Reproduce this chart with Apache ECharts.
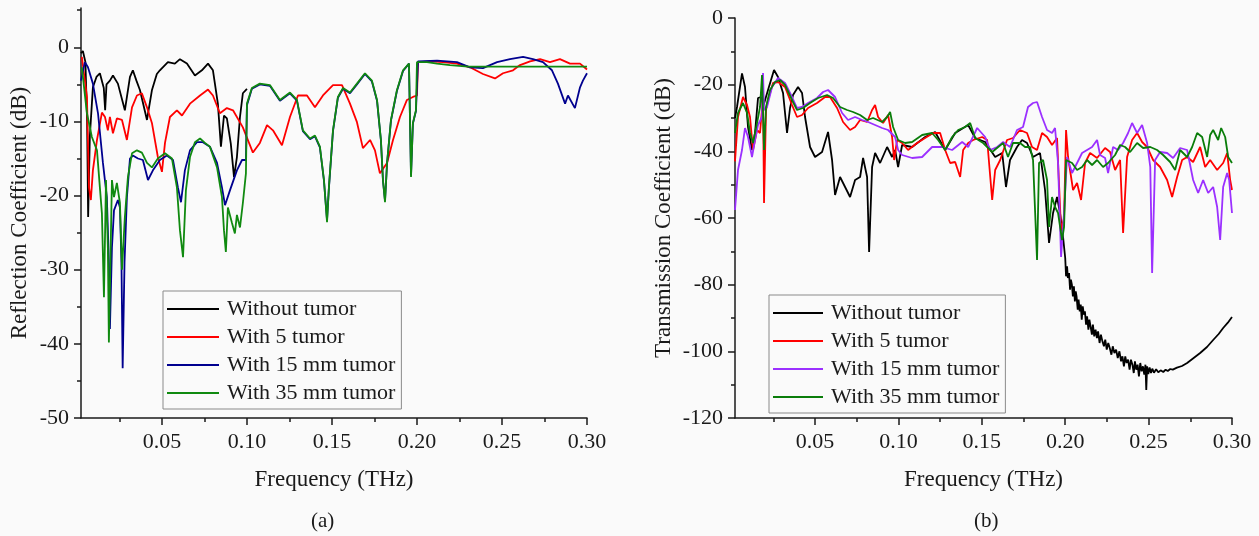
<!DOCTYPE html>
<html>
<head>
<meta charset="utf-8">
<script src="https://cdn.jsdelivr.net/npm/echarts@6/dist/echarts.min.js"></script>
<style>
  html, body { margin: 0; padding: 0; background: #fafafa; }
  #chart { width: 1259px; height: 536px; }
</style>
</head>
<body>
<div id="chart"></div>
<script>
// axis ticks
const freqTicks = [0.05, 0.10, 0.15, 0.20, 0.25, 0.30]
const freqMinor = [0.025, 0.075, 0.125, 0.175, 0.225, 0.275]
const reflTicks = [-50, -40, -30, -20, -10, 0]
const reflMinor = [-45, -35, -25, -15, -5, 5]
const seriesNames = ['Without tumor', 'With 5 tumor', 'With 15 mm tumor', 'With 35 mm tumor']

// (a) reflection coefficient, [THz, dB]
const reflWithout = [[0.0024,-0.8],[0.0035,-0.5],[0.0050,-2.0],[0.0060,-10.0],[0.0066,-22.9],[0.0076,-12.0],[0.0094,-5.4],[0.0115,-4.0],[0.0135,-3.5],[0.0158,-5.5],[0.0166,-8.5],[0.0174,-5.0],[0.0194,-4.5],[0.0212,-3.8],[0.0241,-4.9],[0.0282,-8.5],[0.0312,-4.0],[0.0329,-3.1],[0.0350,-4.5],[0.0371,-5.8],[0.0412,-9.8],[0.0441,-5.8],[0.0470,-3.6],[0.0488,-3.1],[0.0535,-2.0],[0.0576,-2.2],[0.0606,-1.6],[0.0647,-2.2],[0.0694,-3.8],[0.0735,-3.1],[0.0771,-2.2],[0.0800,-3.1],[0.0829,-7.6],[0.0847,-13.4],[0.0865,-9.2],[0.0882,-9.6],[0.0905,-13.0],[0.0924,-17.5],[0.0941,-14.8],[0.0959,-9.4],[0.0976,-6.2],[0.1000,-5.6]]
const reflWith5 = [[0.0029,-1.3],[0.0059,-6.7],[0.0071,-18.9],[0.0082,-20.6],[0.0094,-16.6],[0.0118,-12.5],[0.0147,-8.8],[0.0165,-9.4],[0.0182,-11.2],[0.0194,-9.4],[0.0212,-11.6],[0.0235,-9.6],[0.0265,-9.8],[0.0294,-12.5],[0.0324,-8.1],[0.0353,-6.5],[0.0382,-6.2],[0.0412,-8.1],[0.0441,-10.2],[0.0476,-14.8],[0.0500,-16.8],[0.0518,-12.9],[0.0547,-9.4],[0.0588,-8.5],[0.0618,-9.2],[0.0665,-7.6],[0.0724,-6.5],[0.0771,-5.7],[0.0800,-6.5],[0.0841,-8.9],[0.0882,-8.2],[0.0918,-8.5],[0.0976,-10.8],[0.1035,-14.2],[0.1076,-12.9],[0.1118,-10.5],[0.1153,-11.2],[0.1206,-13.2],[0.1253,-9.4],[0.1300,-6.5],[0.1353,-6.5],[0.1400,-8.1],[0.1447,-6.5],[0.1506,-5.1],[0.1559,-5.1],[0.1606,-7.6],[0.1647,-10.1],[0.1682,-13.6],[0.1724,-12.5],[0.1753,-13.9],[0.1782,-17.0],[0.1824,-15.6],[0.1859,-12.5],[0.1900,-9.4],[0.1941,-7.1],[0.1976,-6.7],[0.2000,-6.5],[0.2006,-2.0],[0.2076,-1.9],[0.2153,-2.0],[0.2235,-2.2],[0.2312,-2.7],[0.2388,-3.6],[0.2459,-4.2],[0.2506,-3.5],[0.2565,-3.1],[0.2606,-2.4],[0.2665,-1.9],[0.2724,-1.6],[0.2782,-2.0],[0.2841,-1.6],[0.2900,-2.2],[0.2959,-2.2],[0.3000,-3.0]]
const reflWith15 = [[0.0024,-4.5],[0.0047,-2.0],[0.0065,-2.7],[0.0094,-4.9],[0.0124,-8.9],[0.0153,-15.6],[0.0176,-20.2],[0.0188,-29.1],[0.0194,-38.0],[0.0206,-27.0],[0.0218,-22.0],[0.0241,-20.6],[0.0253,-21.6],[0.0262,-29.1],[0.0269,-43.3],[0.0280,-29.0],[0.0294,-20.2],[0.0312,-15.0],[0.0329,-14.6],[0.0359,-15.0],[0.0388,-15.2],[0.0418,-17.9],[0.0447,-16.6],[0.0488,-15.2],[0.0529,-14.6],[0.0565,-15.2],[0.0594,-18.9],[0.0612,-20.9],[0.0635,-16.6],[0.0665,-13.9],[0.0706,-12.8],[0.0741,-12.8],[0.0782,-13.4],[0.0824,-15.6],[0.0853,-18.9],[0.0871,-21.3],[0.0900,-19.3],[0.0941,-16.6],[0.0971,-15.2],[0.0994,-15.2],[0.1000,-7.8],[0.1029,-5.6],[0.1076,-5.0],[0.1135,-5.2],[0.1194,-7.2],[0.1253,-6.2],[0.1294,-7.2],[0.1329,-11.3],[0.1371,-12.4],[0.1400,-12.0],[0.1429,-13.5],[0.1453,-18.0],[0.1471,-23.3],[0.1482,-19.0],[0.1506,-11.3],[0.1535,-6.8],[0.1565,-5.6],[0.1606,-6.2],[0.1647,-5.0],[0.1694,-3.6],[0.1735,-4.6],[0.1765,-7.2],[0.1788,-12.6],[0.1800,-18.0],[0.1812,-20.7],[0.1824,-15.7],[0.1847,-9.9],[0.1882,-5.9],[0.1918,-3.2],[0.1953,-2.2],[0.1965,-17.3],[0.1976,-10.3],[0.1994,-8.6],[0.2006,-1.9],[0.2118,-1.8],[0.2235,-2.0],[0.2312,-2.7],[0.2388,-2.8],[0.2471,-2.0],[0.2547,-1.6],[0.2624,-1.3],[0.2682,-1.6],[0.2741,-2.0],[0.2794,-3.1],[0.2829,-4.9],[0.2871,-7.6],[0.2888,-6.5],[0.2929,-8.2],[0.2959,-5.4],[0.2976,-4.5],[0.3000,-3.5]]
const reflWith35 = [[0.0029,-2.7],[0.0059,-8.9],[0.0088,-12.1],[0.0118,-13.9],[0.0147,-22.4],[0.0159,-33.7],[0.0171,-17.9],[0.0182,-27.0],[0.0188,-39.8],[0.0206,-17.9],[0.0218,-20.2],[0.0235,-18.3],[0.0253,-21.0],[0.0265,-30.0],[0.0282,-22.9],[0.0300,-17.5],[0.0324,-14.3],[0.0353,-13.9],[0.0382,-14.2],[0.0412,-15.6],[0.0441,-16.2],[0.0476,-15.0],[0.0518,-14.3],[0.0559,-15.0],[0.0588,-18.9],[0.0606,-24.7],[0.0624,-28.3],[0.0641,-19.3],[0.0665,-14.8],[0.0694,-12.8],[0.0724,-12.3],[0.0753,-12.9],[0.0782,-13.4],[0.0824,-16.2],[0.0853,-20.2],[0.0865,-24.7],[0.0876,-27.6],[0.0888,-21.6],[0.0912,-23.7],[0.0929,-25.1],[0.0941,-22.6],[0.0959,-24.3],[0.0976,-21.0],[0.0994,-17.0],[0.1000,-7.6],[0.1029,-5.5],[0.1076,-4.9],[0.1135,-5.1],[0.1194,-7.1],[0.1253,-6.1],[0.1294,-7.1],[0.1329,-11.2],[0.1371,-12.3],[0.1400,-11.9],[0.1429,-13.4],[0.1453,-17.9],[0.1471,-23.6],[0.1482,-18.9],[0.1506,-11.2],[0.1535,-6.7],[0.1565,-5.5],[0.1606,-6.1],[0.1647,-4.9],[0.1694,-3.5],[0.1735,-4.5],[0.1765,-7.1],[0.1788,-12.5],[0.1800,-17.9],[0.1812,-20.9],[0.1824,-15.6],[0.1847,-9.8],[0.1882,-5.8],[0.1918,-3.1],[0.1953,-2.2],[0.1965,-17.5],[0.1976,-10.2],[0.1994,-8.5],[0.2000,-2.0],[0.2059,-2.0],[0.2118,-2.2],[0.2194,-2.4],[0.2300,-2.6],[0.3000,-2.6]]

// (b) transmission coefficient, [THz, dB]
const transWithout = [[0.0020,-30.0],[0.0032,-26.7],[0.0062,-16.6],[0.0080,-20.7],[0.0098,-32.7],[0.0122,-39.6],[0.0140,-34.5],[0.0158,-24.0],[0.0176,-23.7],[0.0188,-26.7],[0.0218,-21.6],[0.0254,-15.6],[0.0278,-17.7],[0.0308,-22.5],[0.0332,-34.5],[0.0350,-27.0],[0.0368,-23.1],[0.0398,-20.7],[0.0422,-22.5],[0.0440,-29.7],[0.0470,-38.7],[0.0500,-41.7],[0.0542,-40.2],[0.0578,-34.2],[0.0602,-42.6],[0.0620,-53.1],[0.0650,-47.7],[0.0680,-50.7],[0.0710,-53.7],[0.0740,-48.6],[0.0770,-47.7],[0.0788,-42.0],[0.0812,-47.7],[0.0824,-70.2],[0.0842,-44.7],[0.0860,-40.5],[0.0890,-43.5],[0.0932,-38.7],[0.0962,-41.7],[0.0980,-39.6],[0.0998,-44.7],[0.1022,-38.1],[0.1082,-38.7],[0.1160,-35.7],[0.1220,-34.2],[0.1280,-39.6],[0.1340,-34.5],[0.1418,-32.1],[0.1460,-36.0],[0.1520,-37.2],[0.1580,-41.7],[0.1622,-40.5],[0.1645,-50.7],[0.1669,-42.6],[0.1711,-38.7],[0.1741,-36.6],[0.1771,-37.5],[0.1807,-41.7],[0.1849,-40.5],[0.1879,-51.6],[0.1903,-67.5],[0.1927,-58.5],[0.1951,-53.7],[0.1969,-58.5],[0.1987,-65.7],[0.2000,-72.0],[0.2005,-77.5],[0.2011,-74.5],[0.2016,-78.0],[0.2023,-76.5],[0.2029,-81.5],[0.2034,-78.5],[0.2040,-80.0],[0.2046,-83.5],[0.2052,-80.5],[0.2058,-85.0],[0.2063,-82.0],[0.2068,-83.5],[0.2075,-87.5],[0.2080,-84.5],[0.2087,-88.0],[0.2093,-86.0],[0.2099,-90.5],[0.2105,-86.5],[0.2112,-89.0],[0.2118,-88.0],[0.2125,-92.0],[0.2131,-89.5],[0.2139,-93.5],[0.2145,-90.5],[0.2152,-92.5],[0.2160,-95.0],[0.2166,-92.0],[0.2174,-95.5],[0.2182,-93.5],[0.2190,-96.0],[0.2197,-94.0],[0.2206,-97.5],[0.2214,-95.0],[0.2223,-97.0],[0.2232,-98.5],[0.2240,-96.5],[0.2249,-99.5],[0.2258,-97.5],[0.2267,-99.0],[0.2277,-101.0],[0.2285,-98.5],[0.2295,-100.5],[0.2305,-99.5],[0.2315,-102.0],[0.2325,-100.0],[0.2335,-103.0],[0.2343,-101.5],[0.2352,-104.5],[0.2360,-101.5],[0.2368,-103.5],[0.2377,-102.5],[0.2386,-105.5],[0.2394,-102.5],[0.2403,-104.0],[0.2411,-106.5],[0.2418,-103.0],[0.2426,-105.5],[0.2434,-104.0],[0.2442,-107.5],[0.2450,-103.5],[0.2458,-106.0],[0.2466,-104.5],[0.2474,-107.0],[0.2481,-104.0],[0.2486,-111.6],[0.2491,-104.5],[0.2498,-106.8],[0.2506,-104.8],[0.2514,-106.5],[0.2522,-105.2],[0.2532,-106.4],[0.2545,-105.4],[0.2558,-106.3],[0.2572,-105.7],[0.2588,-106.2],[0.2602,-105.5],[0.2615,-105.9],[0.2630,-105.3],[0.2645,-105.5],[0.2670,-104.9],[0.2700,-104.4],[0.2731,-103.5],[0.2770,-102.0],[0.2809,-100.5],[0.2850,-98.7],[0.2887,-96.6],[0.2920,-94.8],[0.2947,-93.0],[0.2975,-91.4],[0.3000,-89.7]]
const transWith5 = [[0.0020,-43.0],[0.0038,-29.7],[0.0068,-23.7],[0.0092,-26.1],[0.0110,-29.7],[0.0128,-39.6],[0.0152,-33.6],[0.0170,-34.5],[0.0188,-23.7],[0.0194,-55.5],[0.0206,-27.6],[0.0218,-24.6],[0.0248,-19.5],[0.0278,-19.2],[0.0320,-20.7],[0.0362,-26.1],[0.0392,-29.7],[0.0422,-29.1],[0.0458,-27.0],[0.0512,-25.5],[0.0560,-23.7],[0.0590,-23.7],[0.0632,-27.0],[0.0668,-31.2],[0.0710,-33.6],[0.0740,-32.7],[0.0770,-30.6],[0.0812,-31.2],[0.0842,-27.6],[0.0860,-26.1],[0.0878,-29.7],[0.0908,-31.5],[0.0938,-29.1],[0.0962,-35.7],[0.0974,-42.6],[0.0992,-36.6],[0.1022,-37.5],[0.1058,-39.6],[0.1112,-37.5],[0.1160,-36.0],[0.1208,-34.5],[0.1250,-34.5],[0.1280,-39.6],[0.1310,-43.5],[0.1340,-43.2],[0.1370,-47.7],[0.1388,-39.6],[0.1418,-37.5],[0.1448,-36.6],[0.1502,-35.7],[0.1532,-36.6],[0.1562,-54.6],[0.1580,-45.6],[0.1610,-42.6],[0.1651,-36.6],[0.1687,-36.0],[0.1729,-33.6],[0.1771,-34.5],[0.1801,-38.7],[0.1831,-39.6],[0.1861,-34.5],[0.1891,-35.7],[0.1921,-38.1],[0.1951,-36.0],[0.1963,-50.0],[0.1975,-63.6],[0.1993,-60.0],[0.2005,-33.6],[0.2011,-34.2],[0.2017,-41.7],[0.2047,-51.6],[0.2071,-49.5],[0.2095,-54.6],[0.2119,-43.5],[0.2149,-40.5],[0.2191,-42.0],[0.2239,-39.0],[0.2269,-40.2],[0.2299,-45.6],[0.2329,-42.6],[0.2347,-64.5],[0.2371,-41.7],[0.2401,-36.6],[0.2431,-34.5],[0.2461,-37.2],[0.2491,-38.7],[0.2527,-42.6],[0.2569,-44.7],[0.2611,-48.6],[0.2641,-53.7],[0.2671,-47.7],[0.2701,-42.6],[0.2731,-41.7],[0.2767,-43.2],[0.2809,-38.7],[0.2839,-44.7],[0.2869,-42.6],[0.2911,-45.6],[0.2947,-43.5],[0.2971,-40.5],[0.2989,-48.6],[0.3000,-51.6]]
const transWith15 = [[0.0020,-57.6],[0.0038,-45.6],[0.0062,-39.6],[0.0080,-33.0],[0.0098,-35.7],[0.0122,-41.7],[0.0140,-36.6],[0.0158,-32.1],[0.0182,-29.7],[0.0188,-16.5],[0.0194,-27.6],[0.0212,-26.7],[0.0242,-20.7],[0.0278,-18.0],[0.0320,-19.5],[0.0362,-23.7],[0.0392,-27.0],[0.0422,-26.7],[0.0458,-25.5],[0.0512,-24.0],[0.0548,-22.2],[0.0578,-21.6],[0.0620,-23.7],[0.0662,-28.5],[0.0698,-30.6],[0.0740,-29.7],[0.0782,-30.6],[0.0818,-31.2],[0.0860,-32.1],[0.0902,-33.0],[0.0938,-33.6],[0.0980,-35.7],[0.0998,-39.6],[0.1022,-41.1],[0.1082,-42.0],[0.1142,-41.7],[0.1202,-38.7],[0.1262,-38.7],[0.1322,-39.6],[0.1382,-37.2],[0.1418,-38.7],[0.1472,-33.0],[0.1520,-35.7],[0.1550,-39.6],[0.1592,-38.7],[0.1628,-37.2],[0.1669,-38.7],[0.1711,-33.6],[0.1747,-32.7],[0.1777,-26.7],[0.1807,-25.5],[0.1831,-25.2],[0.1861,-29.7],[0.1891,-33.6],[0.1921,-34.5],[0.1939,-33.0],[0.1957,-43.5],[0.1975,-71.7],[0.1993,-58.5],[0.2011,-41.7],[0.2041,-46.5],[0.2071,-43.5],[0.2101,-40.5],[0.2131,-39.6],[0.2161,-38.7],[0.2191,-36.6],[0.2209,-41.1],[0.2239,-42.0],[0.2257,-46.5],[0.2287,-38.7],[0.2317,-39.6],[0.2347,-37.5],[0.2377,-34.5],[0.2401,-31.5],[0.2431,-34.5],[0.2461,-32.1],[0.2491,-37.5],[0.2510,-44.7],[0.2521,-76.5],[0.2539,-42.6],[0.2569,-40.2],[0.2611,-40.5],[0.2647,-42.0],[0.2689,-39.0],[0.2731,-39.6],[0.2767,-48.6],[0.2797,-52.5],[0.2827,-48.6],[0.2857,-52.5],[0.2887,-50.7],[0.2911,-56.7],[0.2929,-66.6],[0.2947,-50.7],[0.2971,-46.5],[0.2983,-48.6],[0.3000,-58.5]]
const transWith35 = [[0.0020,-34.5],[0.0038,-28.5],[0.0068,-25.5],[0.0092,-28.5],[0.0110,-34.5],[0.0128,-37.5],[0.0152,-31.5],[0.0170,-26.7],[0.0182,-17.1],[0.0194,-39.6],[0.0206,-26.7],[0.0230,-21.6],[0.0260,-19.2],[0.0290,-18.6],[0.0320,-20.1],[0.0362,-24.6],[0.0392,-27.6],[0.0428,-27.0],[0.0470,-25.5],[0.0518,-24.0],[0.0572,-23.1],[0.0608,-24.0],[0.0650,-26.7],[0.0692,-27.6],[0.0728,-28.2],[0.0770,-29.1],[0.0812,-30.6],[0.0848,-30.0],[0.0902,-31.2],[0.0932,-29.7],[0.0950,-28.2],[0.0968,-32.7],[0.0998,-36.6],[0.1040,-37.5],[0.1082,-37.2],[0.1142,-35.1],[0.1202,-34.5],[0.1238,-36.6],[0.1280,-39.6],[0.1322,-35.7],[0.1358,-33.6],[0.1400,-32.7],[0.1430,-31.5],[0.1460,-36.0],[0.1508,-37.5],[0.1562,-40.2],[0.1598,-38.7],[0.1628,-37.5],[0.1657,-41.7],[0.1687,-37.5],[0.1729,-37.5],[0.1759,-38.7],[0.1789,-38.7],[0.1807,-42.6],[0.1831,-72.6],[0.1843,-43.5],[0.1867,-42.6],[0.1891,-48.6],[0.1903,-62.7],[0.1921,-53.7],[0.1939,-56.7],[0.1957,-58.5],[0.1981,-66.6],[0.1993,-62.7],[0.2005,-42.6],[0.2041,-43.5],[0.2071,-45.6],[0.2101,-44.7],[0.2131,-42.6],[0.2161,-44.1],[0.2191,-42.6],[0.2227,-44.7],[0.2257,-43.5],[0.2299,-41.1],[0.2329,-38.1],[0.2359,-38.7],[0.2389,-40.2],[0.2431,-37.5],[0.2467,-39.0],[0.2510,-38.7],[0.2551,-39.6],[0.2587,-41.1],[0.2629,-43.2],[0.2659,-45.6],[0.2689,-39.6],[0.2731,-41.7],[0.2761,-38.7],[0.2791,-34.5],[0.2821,-35.7],[0.2851,-41.7],[0.2869,-35.1],[0.2887,-33.6],[0.2917,-36.6],[0.2935,-33.0],[0.2959,-35.7],[0.2977,-41.7],[0.3000,-43.5]]

const reflColors = ['#000000', '#ff0000', '#00008f', '#108a10']
const transColors = ['#000000', '#ff0000', '#9b30ff', '#0a7d0a']

const SERIF = '"Liberation Serif", "DejaVu Serif", serif'
const INK = '#1a1a1a'

function lineSeries(name, data, color, axisIndex) {
  return {
    name: name, type: 'line', data: data,
    xAxisIndex: axisIndex, yAxisIndex: axisIndex,
    symbol: 'none', animation: false, clip: true,
    lineStyle: { width: 1.8, color: color },
    itemStyle: { color: color }
  }
}

function freqAxes(gridIndex, min, nameGap) {
  const main = {
    type: 'value', gridIndex: gridIndex, position: 'bottom', min: min, max: 0.3,
    name: 'Frequency (THz)', nameLocation: 'middle', nameGap: nameGap,
    nameTextStyle: { fontFamily: SERIF, fontSize: 23, color: INK },
    axisLine: { onZero: false, lineStyle: { color: INK, width: 1.5 } },
    axisTick: { customValues: freqTicks, length: 7, lineStyle: { color: INK, width: 1.5 } },
    axisLabel: { customValues: freqTicks, formatter: v => v.toFixed(2), margin: 13,
      fontFamily: SERIF, fontSize: 22, color: INK },
    splitLine: { show: false }
  }
  // second axis only for the short minor ticks
  const minor = {
    type: 'value', gridIndex: gridIndex, position: 'bottom', min: min, max: 0.3,
    axisLine: { show: false, onZero: false },
    axisTick: { customValues: freqMinor, length: 4, lineStyle: { color: INK, width: 1.5 } },
    axisLabel: { show: false }, splitLine: { show: false }
  }
  return [main, minor]
}

const yLabel = { fontFamily: SERIF, fontSize: 22, color: INK, margin: 12 }

const option = {
  backgroundColor: '#fafafa',
  grid: [
    { left: 81, top: 8, width: 506, height: 410, outerBoundsMode: 'none' },
    { left: 735, top: 18, width: 497, height: 400, outerBoundsMode: 'none' }
  ],
  xAxis: [...freqAxes(0, 0.0024, 50), ...freqAxes(1, 0.002, 50)],
  yAxis: [
    {
      type: 'value', gridIndex: 0, position: 'left', min: -50, max: 5.3,
      name: 'Reflection Coefficient (dB)', nameLocation: 'middle', nameGap: 50,
      nameTextStyle: { fontFamily: SERIF, fontSize: 23, color: INK },
      axisLine: { show: true, onZero: false, lineStyle: { color: INK, width: 1.5 } },
      axisTick: { show: true, customValues: reflTicks, length: 7, lineStyle: { color: INK, width: 1.5 } },
      axisLabel: Object.assign({ customValues: reflTicks }, yLabel),
      splitLine: { show: false }
    },
    {
      type: 'value', gridIndex: 0, position: 'left', min: -50, max: 5.3,
      axisLine: { show: false, onZero: false },
      axisTick: { show: true, customValues: reflMinor, length: 4, lineStyle: { color: INK, width: 1.5 } },
      axisLabel: { show: false }, splitLine: { show: false }
    },
    {
      type: 'value', gridIndex: 1, position: 'left', min: -120, max: 0, interval: 20,
      name: 'Transmission Coefficient (dB)', nameLocation: 'middle', nameGap: 60,
      nameTextStyle: { fontFamily: SERIF, fontSize: 23, color: INK },
      axisLine: { show: true, onZero: false, lineStyle: { color: INK, width: 1.5 } },
      axisTick: { show: true, length: 7, lineStyle: { color: INK, width: 1.5 } },
      minorTick: { show: true, splitNumber: 2, length: 4, lineStyle: { color: INK, width: 1.5 } },
      axisLabel: yLabel,
      splitLine: { show: false }
    },
    {
      type: 'value', gridIndex: 1, position: 'left', min: -120, max: 0, show: false
    }
  ],
  legend: [
    {
      left: 163, top: 291, orient: 'vertical', selectedMode: false,
      icon: 'rect', itemWidth: 52, itemHeight: 2, itemGap: 6,
      padding: [7, 6, 5, 4], borderColor: '#8a8a8a', borderWidth: 1, backgroundColor: '#fafafa',
      textStyle: { fontFamily: SERIF, fontSize: 22, lineHeight: 22, color: INK, padding: [0, 0, 0, 3] },
      data: seriesNames.map((n, i) => ({ name: n, itemStyle: { color: reflColors[i] } }))
    },
    {
      left: 769, top: 295, orient: 'vertical', selectedMode: false,
      icon: 'rect', itemWidth: 50, itemHeight: 2, itemGap: 6,
      padding: [7, 6, 5, 4], borderColor: '#8a8a8a', borderWidth: 1, backgroundColor: '#fafafa',
      textStyle: { fontFamily: SERIF, fontSize: 22, lineHeight: 22, color: INK, padding: [0, 0, 0, 3] },
      data: seriesNames.map((n, i) => ({ name: n, itemStyle: { color: transColors[i] } }))
    }
  ],
  graphic: [
    { type: 'text', left: 311, top: 511, style: { text: '(a)', fontFamily: SERIF, fontSize: 21, fill: INK } },
    { type: 'text', left: 974, top: 511, style: { text: '(b)', fontFamily: SERIF, fontSize: 21, fill: INK } }
  ],
  series: [
    lineSeries(seriesNames[0], reflWithout, reflColors[0], 0),
    lineSeries(seriesNames[1], reflWith5, reflColors[1], 0),
    lineSeries(seriesNames[2], reflWith15, reflColors[2], 0),
    lineSeries(seriesNames[3], reflWith35, reflColors[3], 0),
    lineSeries(seriesNames[0], transWithout, transColors[0], 2),
    lineSeries(seriesNames[1], transWith5, transColors[1], 2),
    lineSeries(seriesNames[2], transWith15, transColors[2], 2),
    lineSeries(seriesNames[3], transWith35, transColors[3], 2)
  ]
}

const chart = echarts.init(document.getElementById('chart'))
chart.setOption(option)
</script>
</body>
</html>
